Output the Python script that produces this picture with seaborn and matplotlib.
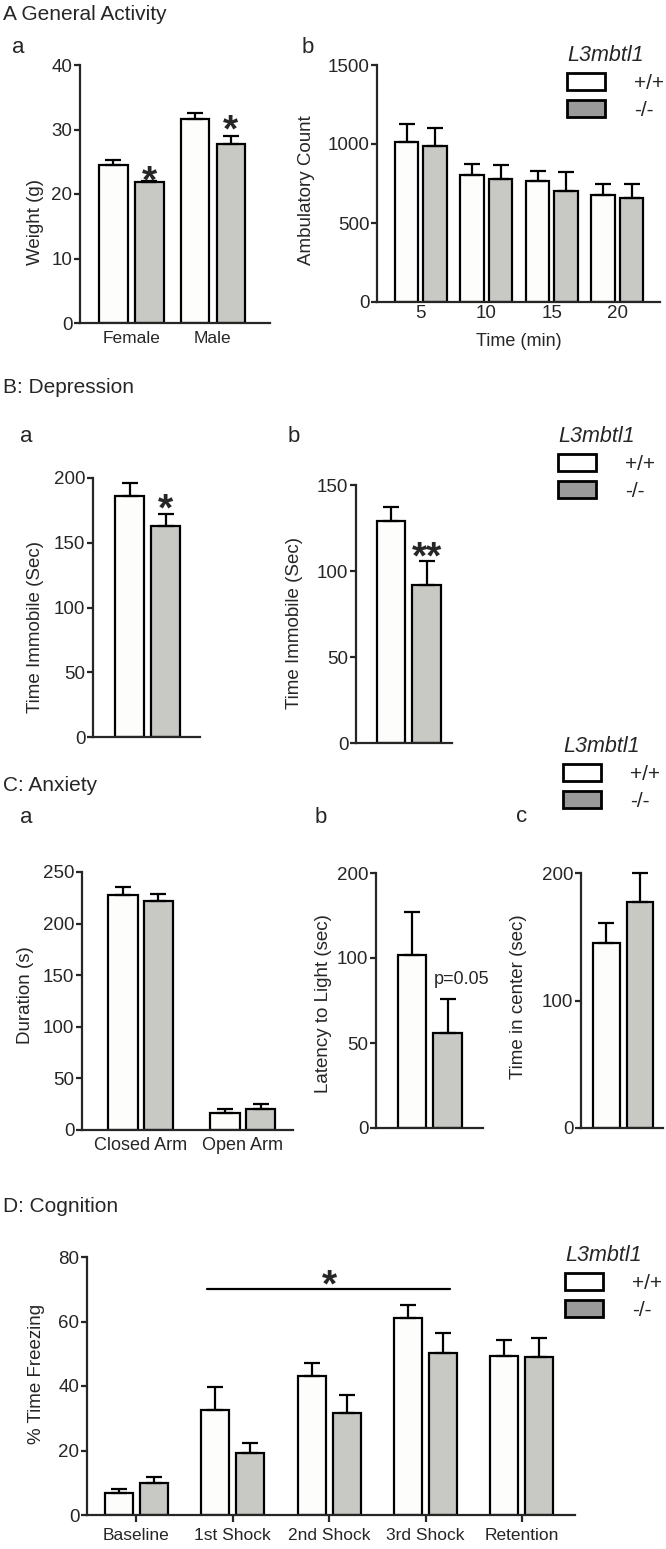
import numpy as np
import pandas as pd
import matplotlib
matplotlib.use("Agg")
import matplotlib.pyplot as plt
import seaborn as sns
from matplotlib.patches import Patch

# genotypes
genotypes = ["+/+", "-/-"]

# A a: body weight
sex = ["Female", "Male"]
weight_wt = [24.5, 31.6]
weight_wt_sem = [0.8, 1.0]
weight_ko = [21.8, 27.7]
weight_ko_sem = [0.2, 1.3]

# A b: ambulatory count
time_min = ["5", "10", "15", "20"]
amb_wt = [1015, 805, 765, 680]
amb_wt_sem = [110, 70, 65, 65]
amb_ko = [985, 780, 705, 660]
amb_ko_sem = [115, 90, 120, 85]

# B a / B b: time immobile
fst_wt, fst_wt_sem = [186], [10]
fst_ko, fst_ko_sem = [163], [9]
tst_wt, tst_wt_sem = [129], [8]
tst_ko, tst_ko_sem = [92], [14]

# C a: elevated plus maze
arms = ["Closed Arm", "Open Arm"]
epm_wt = [228, 16]
epm_wt_sem = [7, 4]
epm_ko = [222, 20]
epm_ko_sem = [7, 5]

# C b: latency to light (axis labelled 0, 50, 100, 200 as in the original)
lat_wt, lat_wt_sem = [102], [25]
lat_ko, lat_ko_sem = [56], [20]
lat_ticks = [0, 50, 100, 150]
lat_ticklabels = ["0", "50", "100", "200"]

# C c: time in center
ctr_wt, ctr_wt_sem = [145], [16]
ctr_ko, ctr_ko_sem = [177], [23]

# D: fear conditioning
stages = ["Baseline", "1st Shock", "2nd Shock", "3rd Shock", "Retention"]
frz_wt = [6.8, 32.6, 43.1, 61.0, 49.3]
frz_wt_sem = [1.2, 7.1, 4.0, 4.0, 5.0]
frz_ko = [10.0, 19.2, 31.5, 50.2, 49.0]
frz_ko_sem = [1.8, 3.1, 5.6, 6.2, 6.0]
sig_start, sig_end, sig_y = 0.73, 3.25, 70

W, H = 666, 1549
pal = {"+/+": "#fdfdfb", "-/-": "#c8c8c4"}
legend_grey = "#9a9a9a"

sns.set_style("ticks")
plt.rcParams["font.family"] = ["Liberation Sans", "DejaVu Sans"]
plt.rcParams["axes.linewidth"] = 1.6

fig = plt.figure(figsize=(W / 100, H / 100), dpi=100)


def px_axes(l, t, r, b):
    return fig.add_axes([l / W, 1 - b / H, (r - l) / W, (b - t) / H])


def draw_bars(ax, cats, wt, ko, wt_sem, ko_sem, unit, sep, bw):
    df = pd.DataFrame({
        "cat": list(cats) * 2,
        "genotype": ["+/+"] * len(cats) + ["-/-"] * len(cats),
        "value": list(wt) + list(ko),
    })
    sns.barplot(data=df, x="cat", y="value", hue="genotype", order=cats,
                hue_order=genotypes, palette=pal, saturation=1,
                width=2 * sep / unit, gap=1 - bw / sep, edgecolor="black",
                linewidth=1.6, errorbar=None, legend=False, ax=ax)
    tops = []
    for cont, sem in zip(ax.containers, [wt_sem, ko_sem]):
        xs = [p.get_x() + p.get_width() / 2 for p in cont]
        ys = [p.get_height() for p in cont]
        ax.errorbar(xs, ys, yerr=[np.zeros(len(xs)), sem], fmt="none",
                    ecolor="black", elinewidth=1.6, capsize=6, capthick=1.6,
                    clip_on=False, zorder=1)
        tops.append([(x, y + s) for x, y, s in zip(xs, ys, sem)])
    sns.despine(ax=ax)
    ax.set_xlabel("")
    ax.tick_params(axis="y", direction="out", length=4, width=1.6,
                   labelsize=13.5, pad=1.5)
    ax.tick_params(axis="x", length=0, labelsize=12.5)
    return tops


def ylab(ax, text, right_px, center_px, box):
    l, t, r, b = box
    ax.set_ylabel(text, fontsize=13.5)
    ax.yaxis.set_label_coords((right_px - l) / (r - l), (b - center_px) / (b - t))


def star(ax, x, y, text, lift_px, fs=28):
    fs_px = fs * 100 / 72
    off = (lift_px - 0.56 * fs_px) * 72 / 100
    ax.annotate(text, xy=(x, y), xytext=(0, off), textcoords="offset points",
                ha="center", va="baseline", fontsize=fs, fontweight="bold",
                annotation_clip=False)


def legend(x, y):
    handles = [Patch(facecolor="white", edgecolor="black", linewidth=2),
               Patch(facecolor=legend_grey, edgecolor="black", linewidth=2)]
    fig.legend(handles=handles, labels=genotypes, title="L3mbtl1",
               title_fontproperties={"style": "italic", "size": 15.5},
               fontsize=15, frameon=False, loc="upper left",
               bbox_to_anchor=(x / W, 1 - y / H), borderaxespad=0, borderpad=0,
               handlelength=1.8, handleheight=0.85, handletextpad=1.4,
               labelspacing=0.35, alignment="left")


def ftext(x, y, s, size):
    fig.text(x / W, 1 - y / H, s, fontsize=size, ha="left", va="baseline")


# section titles and panel letters
ftext(3, 20, "A General Activity", 15)
ftext(12, 53, "a", 16)
ftext(302, 53, "b", 16)
ftext(3, 393, "B: Depression", 15)
ftext(20, 442, "a", 16)
ftext(288, 442, "b", 16)
ftext(3, 791, "C: Anxiety", 15)
ftext(20, 823, "a", 16)
ftext(315, 823, "b", 16)
ftext(516, 822, "c", 16)
ftext(3, 1212, "D: Cognition", 15)

# A a
box = (80, 65, 270, 323)
ax = px_axes(*box)
tops = draw_bars(ax, sex, weight_wt, weight_ko, weight_wt_sem, weight_ko_sem, 81.5, 36, 28.5)
ax.set_xlim(-0.63, 1.70)
ax.set_ylim(0, 40)
ax.set_yticks([0, 10, 20, 30, 40])
ax.tick_params(axis="x", pad=6)
ylab(ax, "Weight (g)", 44, 222, box)
star(ax, *tops[1][0], "*", 10)
star(ax, *tops[1][1], "*", 16)

# A b
box = (377, 65, 660, 302)
ax = px_axes(*box)
draw_bars(ax, time_min, amb_wt, amb_ko, amb_wt_sem, amb_ko_sem, 65.5, 28.5, 23.5)
ax.set_xlim(-0.67, 3.65)
ax.set_ylim(0, 1500)
ax.set_yticks([0, 500, 1000, 1500])
ax.tick_params(axis="x", pad=2, labelsize=13.5)
ax.set_xlabel("Time (min)", fontsize=13, labelpad=8)
ylab(ax, "Ambulatory Count", 315, 190, box)
legend(567, 45)

# B a
box = (93, 478, 200, 737)
ax = px_axes(*box)
tops = draw_bars(ax, ["FST"], fst_wt, fst_ko, fst_wt_sem, fst_ko_sem, 90, 36, 29)
ax.set_xlim(-0.606, 0.583)
ax.set_ylim(0, 200)
ax.set_yticks([0, 50, 100, 150, 200])
ax.set_xticks([])
ylab(ax, "Time Immobile (Sec)", 44, 627, box)
star(ax, *tops[1][0], "*", 16)

# B b
box = (356, 485, 452, 743)
ax = px_axes(*box)
tops = draw_bars(ax, ["TST"], tst_wt, tst_ko, tst_wt_sem, tst_ko_sem, 90, 35.5, 28.5)
ax.set_xlim(-0.589, 0.478)
ax.set_ylim(0, 150)
ax.set_yticks([0, 50, 100, 150])
ax.set_xticks([])
ylab(ax, "Time Immobile (Sec)", 303, 623, box)
star(ax, *tops[1][0], "**", 14)
legend(558, 426)

# C a
box = (82, 872, 293, 1130)
ax = px_axes(*box)
draw_bars(ax, arms, epm_wt, epm_ko, epm_wt_sem, epm_ko_sem, 102.5, 35.5, 29.5)
ax.set_xlim(-0.571, 1.488)
ax.set_ylim(0, 250)
ax.set_yticks([0, 50, 100, 150, 200, 250])
ax.tick_params(axis="x", pad=5, labelsize=13)
ylab(ax, "Duration (s)", 34, 995, box)

# C b
box = (376, 873, 483, 1128)
ax = px_axes(*box)
tops = draw_bars(ax, ["LD"], lat_wt, lat_ko, lat_wt_sem, lat_ko_sem, 90, 35.5, 28.5)
ax.set_xlim(-0.6, 0.589)
ax.set_ylim(0, 150)
ax.set_yticks(lat_ticks)
ax.set_yticklabels(lat_ticklabels)
ax.set_xticks([])
ylab(ax, "Latency to Light (sec)", 332, 1004, box)
ax.annotate("p=0.05", xy=tops[1][0], xytext=(10, 8), textcoords="offset points",
            ha="center", va="bottom", fontsize=13)
legend(563, 736)

# C c
box = (581, 873, 663, 1128)
ax = px_axes(*box)
draw_bars(ax, ["OF"], ctr_wt, ctr_ko, ctr_wt_sem, ctr_ko_sem, 90, 33.5, 26.5)
ax.set_xlim(-0.467, 0.444)
ax.set_ylim(0, 200)
ax.set_yticks([0, 100, 200])
ax.set_xticks([])
ylab(ax, "Time in center (sec)", 527, 997, box)

# D
box = (87, 1257, 575, 1515)
ax = px_axes(*box)
draw_bars(ax, stages, frz_wt, frz_ko, frz_wt_sem, frz_ko_sem, 96.4, 35, 28)
ax.set_xlim(-0.513, 4.55)
ax.set_ylim(0, 80)
ax.set_yticks([0, 20, 40, 60, 80])
ax.tick_params(axis="x", direction="out", length=5, width=1.6, pad=4)
ylab(ax, "% Time Freezing", 45, 1374, box)
ax.plot([sig_start, sig_end], [sig_y, sig_y], color="black", lw=1.6)
star(ax, 2.0, sig_y, "*", 15)
legend(565, 1245)

fig.savefig("out.png", dpi=100)
